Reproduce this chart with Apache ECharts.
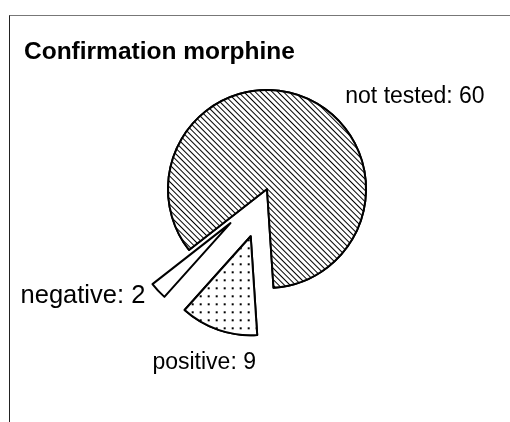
<!DOCTYPE html>
<html>
<head>
<meta charset="utf-8">
<script src="https://cdn.jsdelivr.net/npm/echarts@6/dist/echarts.min.js"></script>
<style>
  html, body { margin: 0; padding: 0; background: #fff; }
  #box { position: absolute; left: 9px; top: 15px; right: -2px; bottom: -2px;
         border-top: 1px solid #777; border-left: 1px solid #222; }
  #main { position: absolute; left: 0; top: 0; width: 510px; height: 422px; }
</style>
</head>
<body>
<div id="box"></div>
<div id="main"></div>
<script>
// data
var titleText = 'Confirmation morphine';
var categories = ['not tested', 'positive', 'negative'];
var values = [60, 9, 2];

var dom = document.getElementById('main');
var myChart = echarts.init(dom);

// patterns / label tweaks per slice
var decals = [
    { symbol: 'rect', color: '#000', backgroundColor: '#fff',
      dashArrayX: [1, 0], dashArrayY: [1, 2.5], rotation: Math.PI / 4 },
    { symbol: 'rect', color: '#000', backgroundColor: '#fff',
      dashArrayX: [1.2, 5.8], dashArrayY: [1.2, 5.8], rotation: 0 },
    null
];
var lines = [
    { length: 2, length2: 32 },
    { length: 35, length2: -54 },
    { length: 8, length2: 2 }
];
var labelSizes = [23, 23, 25.5];

var pieData = categories.map(function (name, i) {
    var item = {
        name: name,
        value: values[i],
        selected: i > 0,
        label: { fontSize: labelSizes[i] },
        labelLine: { show: false, length: lines[i].length, length2: lines[i].length2 },
        itemStyle: { color: '#fff' }
    };
    if (decals[i]) item.itemStyle.decal = decals[i];
    return item;
});

option = {
    backgroundColor: 'transparent',
    animation: false,
    title: {
        text: titleText,
        left: 19,
        top: 35,
        textStyle: {
            fontFamily: 'Liberation Sans, Arial, sans-serif',
            fontSize: 24.5,
            fontWeight: 'bold',
            color: '#000'
        }
    },
    series: [{
        type: 'pie',
        center: [267, 189],
        radius: 99,
        startAngle: 218,
        clockwise: true,
        selectedMode: 'multiple',
        selectedOffset: 50,
        avoidLabelOverlap: false,
        label: {
            show: true,
            position: 'outside',
            formatter: '{b}: {c}',
            fontFamily: 'Liberation Sans, Arial, sans-serif',
            color: '#000'
        },
        itemStyle: {
            borderColor: '#000',
            borderWidth: 2
        },
        emphasis: { disabled: true },
        data: pieData
    }]
};
myChart.setOption(option, true);
window.onresize = myChart.resize;
</script>
</body>
</html>
